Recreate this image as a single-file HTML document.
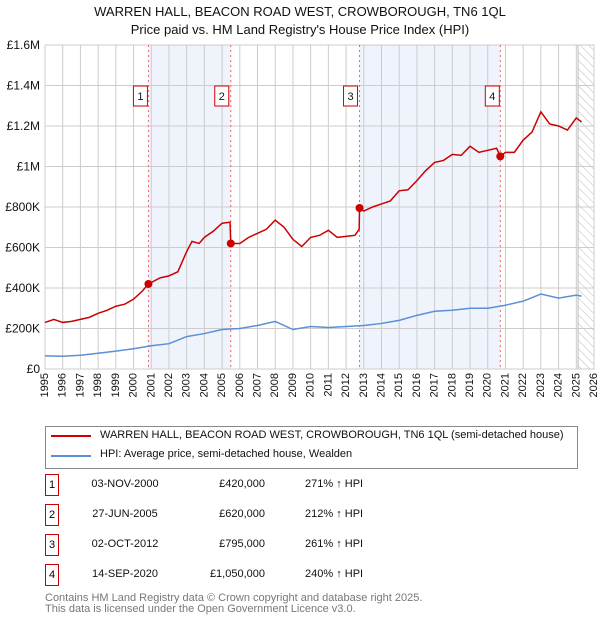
<!DOCTYPE html>
<html><head><meta charset="utf-8"><style>
body{margin:0;background:#fff;font-family:"Liberation Sans","DejaVu Sans",sans-serif;}
#w{position:relative;width:600px;height:620px;overflow:hidden}
.t{position:absolute;font-size:11px;color:#111;white-space:nowrap}
.nb{position:absolute;border:1px solid #c00;width:12px;height:20px;text-align:center;line-height:20px;font-size:11px;left:45px}
</style></head><body><div id="w">
<div class="t" style="top:4px;width:600px;text-align:center;font-size:13px">WARREN HALL, BEACON ROAD WEST, CROWBOROUGH, TN6 1QL</div>
<div class="t" style="top:22px;width:600px;text-align:center;font-size:13px">Price paid vs. HM Land Registry's House Price Index (HPI)</div>
<svg id="c" width="600" height="420" style="position:absolute;left:0;top:0"></svg>
<div style="position:absolute;left:45px;top:426px;width:531px;height:41px;border:1px solid #888"></div>
<div style="position:absolute;left:51px;top:435px;width:40px;height:2px;background:#c00"></div>
<div class="t" style="left:100px;top:429px">WARREN HALL, BEACON ROAD WEST, CROWBOROUGH, TN6 1QL (semi-detached house)</div>
<div style="position:absolute;left:51px;top:455px;width:40px;height:2px;background:#5b8fd6"></div>
<div class="t" style="left:100px;top:448px">HPI: Average price, semi-detached house, Wealden</div>
<div id="tbl"></div>
<div class="t" style="left:45px;top:593px;color:#777;line-height:11px">Contains HM Land Registry data © Crown copyright and database right 2025.<br>This data is licensed under the Open Government Licence v3.0.</div>
</div>
<script>
const redX=[1995,1995.5,1996,1996.5,1997,1997.5,1998,1998.5,1999,1999.5,2000,2000.5,2000.84,2001.5,2002,2002.5,2003,2003.3,2003.7,2004,2004.5,2005,2005.45,2005.49,2006,2006.5,2007,2007.5,2008,2008.5,2009,2009.5,2010,2010.5,2011,2011.5,2012,2012.5,2012.74,2012.76,2013,2013.5,2014,2014.5,2015,2015.5,2016,2016.5,2017,2017.5,2018,2018.5,2019,2019.5,2020,2020.5,2020.71,2021,2021.5,2022,2022.5,2023,2023.5,2024,2024.5,2025,2025.3];
const redY=[230,245,230,235,245,255,275,290,310,320,345,385,420,450,460,480,580,630,620,650,680,720,725,620,620,650,670,690,735,700,640,605,650,660,685,650,655,660,690,795,780,800,815,830,880,885,930,980,1020,1030,1060,1055,1100,1070,1080,1090,1050,1070,1070,1130,1170,1270,1210,1200,1180,1240,1220];
const hpiX=[1995,1996,1997,1998,1999,2000,2001,2002,2003,2004,2005,2006,2007,2008,2009,2010,2011,2012,2013,2014,2015,2016,2017,2018,2019,2020,2021,2022,2023,2024,2025,2025.3];
const hpiY=[65,63,68,78,88,100,115,125,160,175,195,200,215,235,195,210,205,210,215,225,240,265,285,290,300,300,315,335,370,350,365,360];
const saleNum=["1","2","3","4"];
const saleX=[2000.84,2005.49,2012.76,2020.71];
const saleY=[420,620,795,1050];
const saleDate=["03-NOV-2000","27-JUN-2005","02-OCT-2012","14-SEP-2020"];
const salePrice=["£420,000","£620,000","£795,000","£1,050,000"];
const salePct=["271% ↑ HPI","212% ↑ HPI","261% ↑ HPI","240% ↑ HPI"];
const yTicks=[0,200,400,600,800,1000,1200,1400,1600];
const yLabels=["£0","£200K","£400K","£600K","£800K","£1M","£1.2M","£1.4M","£1.6M"];
const L=45,R=594,T=45,B=369,x0=1995,x1=2026;
const X=v=>L+(v-x0)/(x1-x0)*(R-L), Y=v=>B-v/1600*(B-T);
const s=document.getElementById('c'),NS="http://www.w3.org/2000/svg";
function mk(t,a){const e=document.createElementNS(NS,t);for(const k in a)e.setAttribute(k,a[k]);s.appendChild(e);return e;}
let e;
for(let i=0;i<4;i+=2){e=mk('rect',{x:X(saleX[i]),y:T,width:X(saleX[i+1])-X(saleX[i]),height:B-T,fill:'#eef3fc'});

}
const dfs=mk('defs',{});dfs.innerHTML='<pattern id="h" width="6" height="6" patternUnits="userSpaceOnUse" patternTransform="rotate(-45)"><line x1="0" y1="0" x2="0" y2="6" stroke="#bbb" stroke-width="1"/></pattern>';
e=mk('rect',{x:X(2025.1),y:T,width:R-X(2025.1),height:B-T,fill:'url(#h)',stroke:'#bbb'});


for(let yr=1995;yr<=2026;yr++){e=mk('line',{x1:X(yr),x2:X(yr),y1:T,y2:B,stroke:'#ccc'});


e=mk('text',{x:0,y:0,'font-size':11,fill:'#111','text-anchor':'end','dominant-baseline':'central',transform:`translate(${X(yr)},${B+4}) rotate(-90)`});e.textContent=yr;

}
yTicks.forEach((v,i)=>{e=mk('line',{x1:L,x2:R,y1:Y(v),y2:Y(v),stroke:'#ccc'});


e=mk('text',{x:L-5,y:Y(v)+4,'font-size':12,fill:'#111','text-anchor':'end'});e.textContent=yLabels[i];

});
saleX.forEach((v,i)=>{e=mk('line',{x1:X(v),x2:X(v),y1:T,y2:B,stroke:'#e66','stroke-dasharray':'2,3'});

});
e=mk('polyline',{points:hpiX.map((v,i)=>X(v)+','+Y(hpiY[i])).join(' '),fill:'none',stroke:'#5b8fd6','stroke-width':1.5});


e=mk('polyline',{points:redX.map((v,i)=>X(v)+','+Y(redY[i])).join(' '),fill:'none',stroke:'#c00','stroke-width':1.5});


saleX.forEach((v,i)=>{e=mk('circle',{cx:X(v),cy:Y(saleY[i]),r:4,fill:'#c00'});


const bx=X(v)-(i==0||i==3?14:15);
e=mk('rect',{x:bx-1,y:T+41,width:14,height:20,fill:'#fff',stroke:'#c00'});


e=mk('text',{x:bx+6,y:T+55,'font-size':11,'text-anchor':'middle',fill:'#111'});e.textContent=saleNum[i];

});
const tb=document.getElementById('tbl');
saleNum.forEach((n,i)=>{const y=474+i*30;
tb.insertAdjacentHTML('beforeend',`<div class="nb" style="top:${y}px">${n}</div>
<div class="t" style="left:85px;width:80px;text-align:center;top:${y+4}px">${saleDate[i]}</div>
<div class="t" style="left:180px;width:85px;text-align:right;top:${y+4}px">${salePrice[i]}</div>
<div class="t" style="left:305px;top:${y+4}px">${salePct[i]}</div>`);});
</script></body></html>
